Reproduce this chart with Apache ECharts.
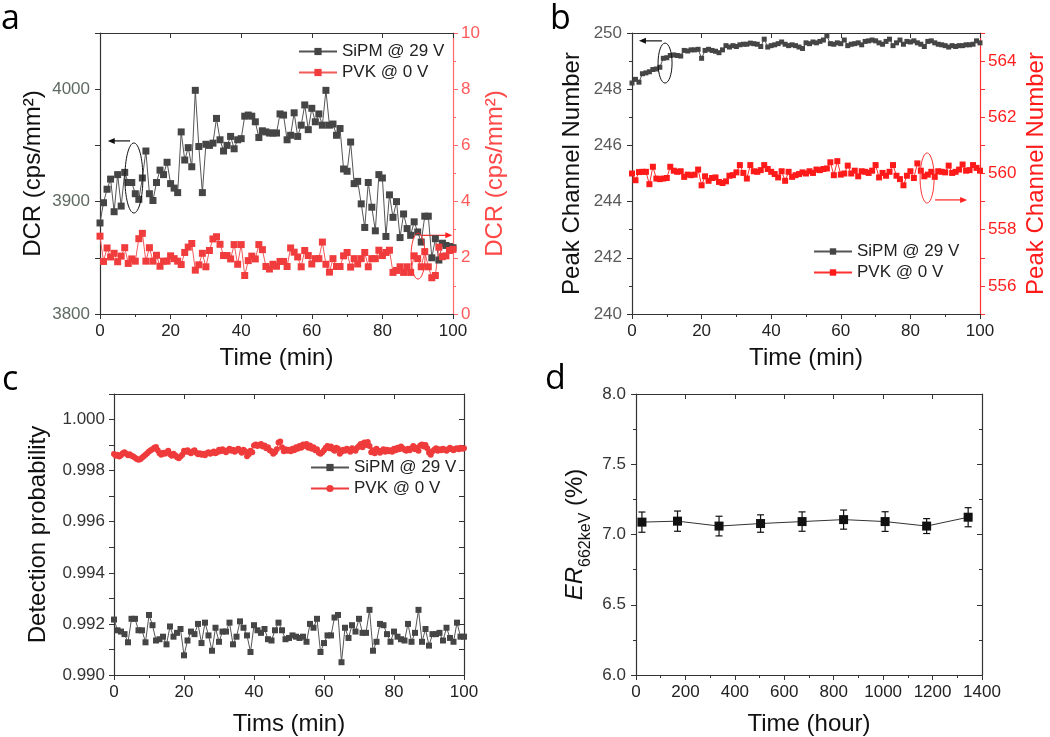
<!DOCTYPE html>
<html><head><meta charset="utf-8">
<script src="https://cdn.jsdelivr.net/npm/echarts@6/dist/echarts.min.js"></script>
<style>html,body{margin:0;padding:0;background:#fff}#chart{width:1050px;height:737px}</style>
</head><body><div id="chart"></div>
<script>
// ---------- DATA ----------
const timeMin = [0,1,2,3,4,5,6,7,8,9,10,11,12,13,14,15,16,17,18,19,20,21,22,23,24,25,26,27,28,29,30,31,32,33,34,35,36,37,38,39,40,41,42,43,44,45,46,47,48,49,50,51,52,53,54,55,56,57,58,59,60,61,62,63,64,65,66,67,68,69,70,71,72,73,74,75,76,77,78,79,80,81,82,83,84,85,86,87,88,89,90,91,92,93,94,95,96,97,98,99,100];
const timeHalfMin = [0,0.5,1,1.5,2,2.5,3,3.5,4,4.5,5,5.5,6,6.5,7,7.5,8,8.5,9,9.5,
10,10.5,11,11.5,12,12.5,13,13.5,14,14.5,15,15.5,16,16.5,17,17.5,18,18.5,19,19.5,
20,20.5,21,21.5,22,22.5,23,23.5,24,24.5,25,25.5,26,26.5,27,27.5,28,28.5,29,29.5,
30,30.5,31,31.5,32,32.5,33,33.5,34,34.5,35,35.5,36,36.5,37,37.5,38,38.5,39,39.5,
40,40.5,41,41.5,42,42.5,43,43.5,44,44.5,45,45.5,46,46.5,47,47.5,48,48.5,49,49.5,
50,50.5,51,51.5,52,52.5,53,53.5,54,54.5,55,55.5,56,56.5,57,57.5,58,58.5,59,59.5,
60,60.5,61,61.5,62,62.5,63,63.5,64,64.5,65,65.5,66,66.5,67,67.5,68,68.5,69,69.5,
70,70.5,71,71.5,72,72.5,73,73.5,74,74.5,75,75.5,76,76.5,77,77.5,78,78.5,79,79.5,
80,80.5,81,81.5,82,82.5,83,83.5,84,84.5,85,85.5,86,86.5,87,87.5,88,88.5,89,89.5,
90,90.5,91,91.5,92,92.5,93,93.5,94,94.5,95,95.5,96,96.5,97,97.5,98,98.5,99,99.5,100];

// (a) dark count rate
const dcrSipm = [3881,3899,3911,3920,3891,3924,3896,3926,3917,3917,
3907,3902,3921,3945,3907,3901,3917,3928,3924,3935,
3916,3912,3908,3962,3937,3948,3931,3999,3949,3908,
3951,3950,3952,3974,3955,3945,3950,3958,3947,3955,
3956,3976,3977,3976,3971,3957,3963,3962,3961,3961,
3961,3978,3977,3955,3959,3979,3958,3968,3986,3964,
3983,3971,3978,3968,3999,3968,3969,3959,3965,3929,
3927,3953,3916,3918,3898,3877,3917,3895,3874,3924,
3921,3869,3906,3886,3900,3868,3889,3876,3870,3882,
3873,3864,3887,3887,3850,3867,3848,3863,3861,3860,3859];
const dcrPvk = [2.77,1.87,2.35,2.03,2.16,1.86,2.06,2.36,1.80,1.96,
1.88,2.68,2.87,1.88,2.36,1.88,2.09,1.70,1.88,1.88,
2.07,1.97,1.88,1.76,2.19,2.38,2.51,1.56,1.75,2.16,
1.68,2.26,2.67,2.75,2.48,2.08,2.08,1.96,2.47,1.77,
2.47,1.37,1.90,2.06,1.96,2.47,2.29,1.69,1.60,1.77,
1.70,1.87,1.87,1.69,2.35,2.20,2.03,1.68,2.26,2.08,
1.78,1.97,1.97,2.56,1.77,1.49,1.97,1.69,1.69,2.07,
2.19,1.67,1.97,1.78,1.97,2.19,1.68,1.97,1.97,2.27,
2.08,2.19,2.27,1.48,1.55,1.68,1.48,1.68,1.48,2.07,
1.97,1.68,2.22,1.68,1.29,1.37,2.38,2.04,2.07,2.26,2.30];

// (b) peak channel number
const peakSipm = [248.22,248.35,248.25,248.55,248.58,248.62,248.70,248.72,248.78,249.10,
249.12,249.20,249.22,249.20,249.18,249.38,249.36,249.40,249.40,249.42,
249.10,249.38,249.42,249.38,249.35,249.30,249.40,249.55,249.50,249.55,
249.52,249.58,249.60,249.60,249.64,249.62,249.60,249.52,249.78,249.50,
249.55,249.58,249.62,249.68,249.60,249.55,249.58,249.55,249.50,249.45,
249.65,249.62,249.68,249.65,249.70,249.75,249.90,249.62,249.60,249.65,
249.62,249.75,249.55,249.60,249.62,249.65,249.58,249.70,249.72,249.75,
249.72,249.65,249.60,249.70,249.78,249.55,249.65,249.75,249.60,249.70,
249.68,249.72,249.65,249.60,249.52,249.70,249.72,249.65,249.60,249.58,
249.55,249.50,249.55,249.52,249.55,249.55,249.58,249.58,249.60,249.72,249.65];
const peakPvk = [560.00,559.76,560.05,560.06,560.06,559.62,560.24,559.82,559.80,559.82,
559.84,560.24,560.10,560.06,560.08,559.88,559.96,559.94,559.96,560.14,
559.58,559.90,559.74,559.84,559.86,559.70,559.66,559.72,559.92,559.94,
560.04,560.30,560.02,559.82,560.30,560.08,560.06,560.12,560.30,560.16,
560.06,559.98,559.86,560.08,559.74,560.06,559.88,559.94,559.98,560.04,
560.00,560.08,560.02,560.14,560.12,560.16,560.18,560.40,559.94,560.44,
559.96,560.00,560.28,560.00,560.10,559.90,560.08,560.06,560.02,560.10,
560.30,559.86,560.02,559.92,560.06,560.30,559.92,559.80,559.58,559.92,
560.08,559.84,560.36,560.10,559.90,559.96,560.06,559.88,560.08,560.06,
560.04,560.28,560.02,560.06,560.14,560.32,560.10,560.12,560.30,560.20,560.10];

// (c) detection probability
const detSipm = [0.99217,0.99175,0.99170,0.99160,0.99128,0.99220,0.99220,0.99175,0.99175,0.99128,
0.99235,0.99195,0.99135,0.99140,0.99150,0.99120,0.99190,0.99150,0.99165,0.99180,
0.99077,0.99135,0.99170,0.99160,0.99200,0.99125,0.99205,0.99155,0.99095,0.99185,
0.99130,0.99170,0.99170,0.99205,0.99120,0.99150,0.99210,0.99185,0.99155,0.99090,
0.99195,0.99175,0.99165,0.99180,0.99140,0.99135,0.99175,0.99205,0.99175,0.99140,
0.99145,0.99155,0.99150,0.99145,0.99150,0.99130,0.99200,0.99185,0.99220,0.99090,
0.99125,0.99155,0.99155,0.99225,0.99235,0.99050,0.99185,0.99145,0.99195,0.99170,
0.99220,0.99165,0.99165,0.99255,0.99095,0.99130,0.99200,0.99195,0.99160,0.99130,
0.99170,0.99150,0.99140,0.99135,0.99200,0.99130,0.99165,0.99255,0.99130,0.99180,
0.99115,0.99160,0.99160,0.99165,0.99135,0.99185,0.99145,0.99130,0.99205,0.99150,0.99150];
const detPvk = [0.99865,0.99858,0.99862,0.99855,0.99860,0.99868,0.99872,0.99866,0.99860,0.99864,0.99858,0.99855,0.99850,0.99846,0.99843,0.99845,0.99850,0.99856,0.99862,0.99868,
0.99875,0.99880,0.99884,0.99890,0.99893,0.99880,0.99868,0.99862,0.99870,0.99866,0.99872,0.99878,0.99864,0.99858,0.99866,0.99860,0.99852,0.99848,0.99855,0.99862,
0.99878,0.99874,0.99880,0.99872,0.99868,0.99876,0.99880,0.99870,0.99864,0.99868,0.99862,0.99866,0.99860,0.99868,0.99872,0.99866,0.99870,0.99875,0.99868,0.99872,
0.99882,0.99876,0.99884,0.99878,0.99872,0.99880,0.99886,0.99878,0.99882,0.99874,0.99880,0.99886,0.99878,0.99870,0.99882,0.99876,0.99856,0.99864,0.99878,0.99872,
0.99898,0.99902,0.99896,0.99900,0.99904,0.99894,0.99898,0.99888,0.99892,0.99880,0.99876,0.99866,0.99872,0.99884,0.99910,0.99914,0.99892,0.99876,0.99884,0.99878,
0.99882,0.99876,0.99886,0.99880,0.99892,0.99886,0.99896,0.99890,0.99902,0.99896,0.99904,0.99890,0.99898,0.99886,0.99892,0.99880,0.99884,0.99870,0.99866,0.99872,
0.99880,0.99890,0.99896,0.99888,0.99894,0.99884,0.99878,0.99890,0.99886,0.99866,0.99874,0.99882,0.99878,0.99886,0.99880,0.99874,0.99888,0.99882,0.99878,0.99890,
0.99896,0.99904,0.99892,0.99910,0.99900,0.99912,0.99896,0.99872,0.99880,0.99868,0.99886,0.99878,0.99870,0.99878,0.99884,0.99874,0.99882,0.99876,0.99880,0.99874,
0.99886,0.99880,0.99890,0.99884,0.99894,0.99888,0.99882,0.99878,0.99886,0.99880,0.99888,0.99896,0.99884,0.99890,0.99878,0.99898,0.99902,0.99894,0.99900,0.99888,
0.99870,0.99862,0.99876,0.99882,0.99888,0.99878,0.99884,0.99880,0.99886,0.99882,0.99878,0.99884,0.99890,0.99884,0.99880,0.99886,0.99888,0.99884,0.99890,0.99886,
0.99888];

// (d) energy resolution
const hours = [24,168,336,504,672,840,1008,1176,1344];
const erValue = [7.088,7.095,7.060,7.078,7.092,7.106,7.092,7.060,7.123];
const erError = [0.072,0.072,0.070,0.062,0.069,0.068,0.070,0.053,0.068];

const legendNames = ['SiPM @ 29 V','PVK @ 0 V'];

// ---------- STYLE ----------
const FONT = 'Arial, "Liberation Sans", sans-serif';
const AX = '#333';
const GRAY = '#454545';
const pair = (xs, ys) => xs.map((x, i) => [x, ys[i]]);

function xAxisBottom(g, min, max, interval, name, gap) {
  return {type:'value', gridIndex:g, position:'bottom', min:min, max:max, interval:interval,
    name:name, nameLocation:'middle', nameGap:gap,
    nameTextStyle:{fontFamily:FONT, fontSize:24, color:'#111'},
    axisLine:{onZero:false, lineStyle:{color:AX, width:1.2}},
    axisTick:{show:true, length:5, lineStyle:{color:AX}},
    minorTick:{show:true, splitNumber:2, length:3, lineStyle:{color:AX}},
    axisLabel:{fontFamily:FONT, fontSize:17, color:'#222', margin:9, formatter:v => String(v)},
    splitLine:{show:false}};
}
function xAxisTop(g, min, max, interval) {
  return {type:'value', gridIndex:g, position:'top', min:min, max:max, interval:interval,
    axisLine:{onZero:false, lineStyle:{color:AX, width:1.2}},
    axisTick:{show:true, inside:true, length:5, lineStyle:{color:AX}},
    axisLabel:{show:false}, splitLine:{show:false}};
}
function yAxisDef(g, pos, min, max, interval, o) {
  const color = o.color || AX;
  const ax = {type:'value', gridIndex:g, position:pos, min:min, max:max, interval:interval,
    axisLine:{show:true, onZero:false, lineStyle:{color:color, width:1.2}},
    axisTick:{show:true, inside:!!o.inside, length:5, lineStyle:{color:color}},
    minorTick:{show:!!o.minor, splitNumber:2, length:3, lineStyle:{color:color}},
    axisLabel:{show:o.label !== false, fontFamily:FONT, fontSize:17, color:o.labelColor || '#222', margin:o.margin || 9},
    splitLine:{show:false}};
  if (o.formatter) ax.axisLabel.formatter = o.formatter;
  if (o.name) {
    ax.name = o.name; ax.nameLocation = 'middle'; ax.nameGap = o.gap; ax.nameRotate = 90;
    ax.nameTextStyle = {fontFamily:FONT, fontSize:24, color:o.nameColor || '#111'};
    if (o.rich) ax.nameTextStyle.rich = o.rich;
  }
  return ax;
}

const letterStyle = {fontFamily:'"Open Sans", "DejaVu Sans", sans-serif', fontSize:34, fontWeight:'normal', color:'#000'};
const baseOption = {
  animation:false,
  backgroundColor:'#fff',
  title:[
    {text:'a', left:-4, top:-3, textStyle:letterStyle},
    {text:'b', left:545, top:-3, textStyle:letterStyle},
    {text:'c', left:-3, top:358, textStyle:letterStyle},
    {text:'d', left:540, top:357, textStyle:letterStyle}
  ],
  grid:[
    {left:100, top:33, width:353, height:281},
    {left:632, top:33, width:348, height:281},
    {left:114, top:394, width:350, height:282},
    {left:636, top:394, width:346, height:282}
  ],
  xAxis:[
    xAxisBottom(0, 0, 100, 20, 'Time (min)', 32),
    xAxisTop(0, 0, 100, 20),
    xAxisBottom(1, 0, 100, 20, 'Time (min)', 32),
    xAxisTop(1, 0, 100, 20),
    xAxisBottom(2, 0, 100, 20, 'Tims (min)', 37),
    xAxisTop(2, 0, 100, 20),
    xAxisBottom(3, 0, 1400, 200, 'Time (hour)', 37),
    xAxisTop(3, 0, 1400, 200)
  ],
  yAxis:[
    yAxisDef(0, 'left', 3800, 4050, 50, {name:'DCR (cps/mm²)', gap:55, labelColor:'#5e6a62', margin:10,
      formatter:v => (v % 100 === 0 ? String(v) : '')}),
    yAxisDef(0, 'right', 0, 10, 2, {name:'DCR (cps/mm²)', gap:30, color:'#ff6a6a', labelColor:'#ff5a5a',
      nameColor:'#ff4848', minor:true, margin:8}),
    yAxisDef(1, 'left', 240, 250, 2, {name:'Peak Channel Number', gap:48, labelColor:'#5a5a5a', minor:true, margin:10}),
    yAxisDef(1, 'right', 555, 565, 1, {name:'Peak Channel Number', gap:44, color:'#ff3030', labelColor:'#ff2020',
      nameColor:'#ff1a1a', margin:8, formatter:v => (v % 2 === 0 ? String(v) : '')}),
    yAxisDef(2, 'left', 0.990, 1.001, 0.001, {name:'Detection probability', gap:64, labelColor:'#333', margin:9,
      formatter:v => { const k = Math.round(v * 1000); return k % 2 === 0 ? (k / 1000).toFixed(3) : ''; }}),
    yAxisDef(2, 'right', 0.990, 1.001, 0.001, {label:false, inside:true}),
    yAxisDef(3, 'left', 6, 8, 0.5, {name:'{i|ER}{s|662keV}{n| (%)}', gap:42, labelColor:'#333', minor:true, margin:10,
      formatter:v => v.toFixed(1),
      rich:{
        i:{fontFamily:FONT, fontSize:24, fontStyle:'italic', color:'#111', verticalAlign:'bottom', padding:[0, 0, 7, 0]},
        s:{fontFamily:FONT, fontSize:16, color:'#111', verticalAlign:'bottom'},
        n:{fontFamily:FONT, fontSize:24, color:'#111', verticalAlign:'bottom', padding:[0, 0, 7, 0]}
      }}),
    yAxisDef(3, 'right', 6, 8, 0.5, {label:false, inside:true, minor:true})
  ]
};

const lineSeries = [
  {name:'a|' + legendNames[0], type:'line', xAxisIndex:0, yAxisIndex:0, data:pair(timeMin, dcrSipm),
   symbol:'rect', symbolSize:7, itemStyle:{color:GRAY}, lineStyle:{color:'#555', width:1}},
  {name:'a|' + legendNames[1], type:'line', xAxisIndex:0, yAxisIndex:1, data:pair(timeMin, dcrPvk),
   symbol:'rect', symbolSize:7, itemStyle:{color:'#f03c3c'}, lineStyle:{color:'#f35a5a', width:1}},
  {name:'b|' + legendNames[0], type:'line', xAxisIndex:2, yAxisIndex:2, data:pair(timeMin, peakSipm),
   symbol:'rect', symbolSize:5, itemStyle:{color:GRAY}, lineStyle:{color:'#555', width:1}},
  {name:'b|' + legendNames[1], type:'line', xAxisIndex:2, yAxisIndex:3, data:pair(timeMin, peakPvk),
   symbol:'rect', symbolSize:6, itemStyle:{color:'#ff1a1a'}, lineStyle:{color:'#ff3030', width:1}},
  {name:'c|' + legendNames[0], type:'line', xAxisIndex:4, yAxisIndex:4, data:pair(timeMin, detSipm),
   symbol:'rect', symbolSize:6, itemStyle:{color:GRAY}, lineStyle:{color:'#555', width:1}},
  {name:'c|' + legendNames[1], type:'line', xAxisIndex:4, yAxisIndex:4, data:pair(timeHalfMin, detPvk),
   symbol:'circle', symbolSize:6, itemStyle:{color:'#ef3b3b'}, lineStyle:{color:'#ef3b3b', width:1}},
  {name:'ER', type:'line', xAxisIndex:6, yAxisIndex:6, data:pair(hours, erValue),
   symbol:'rect', symbolSize:9, itemStyle:{color:'#111'}, lineStyle:{color:'#333', width:1}, z:3}
];
const errSeries = {name:'ERerr', type:'custom', xAxisIndex:6, yAxisIndex:6,
  data:hours.map((h, i) => [h, erValue[i] - erError[i], erValue[i] + erError[i]]),
  encode:{x:0, y:[1, 2]},
  renderItem:function (params, api) {
    const x = api.value(0);
    const pTop = api.coord([x, api.value(2)]);
    const pBot = api.coord([x, api.value(1)]);
    const w = 3.5, st = {stroke:'#111', lineWidth:1.2};
    return {type:'group', children:[
      {type:'line', shape:{x1:pTop[0], y1:pTop[1], x2:pBot[0], y2:pBot[1]}, style:st},
      {type:'line', shape:{x1:pTop[0] - w, y1:pTop[1], x2:pTop[0] + w, y2:pTop[1]}, style:st},
      {type:'line', shape:{x1:pBot[0] - w, y1:pBot[1], x2:pBot[0] + w, y2:pBot[1]}, style:st}
    ]};
  }, z:2};

const legendTS = {fontFamily:FONT, fontSize:17, color:'#222'};
const legends = [
  {orient:'vertical', left:298, top:43, itemWidth:38, itemHeight:9, itemGap:4, padding:0,
   data:['a|' + legendNames[0], 'a|' + legendNames[1]], formatter:n => n.split('|')[1], textStyle:legendTS, selectedMode:false},
  {orient:'vertical', left:813, top:243, itemWidth:38, itemHeight:8, itemGap:4, padding:0,
   data:['b|' + legendNames[0], 'b|' + legendNames[1]], formatter:n => n.split('|')[1], textStyle:legendTS, selectedMode:false},
  {orient:'vertical', left:310, top:459, itemWidth:38, itemHeight:9, itemGap:4, padding:0,
   data:['c|' + legendNames[0], 'c|' + legendNames[1]], formatter:n => n.split('|')[1], textStyle:legendTS, selectedMode:false}
];

const chart = echarts.init(document.getElementById('chart'));
chart.setOption(Object.assign({}, baseOption, {series:lineSeries.concat([errSeries]), legend:legends}));

// ---------- annotations (ellipses + arrows in data coordinates) ----------
function px(xi, yi, pt) { return chart.convertToPixel({xAxisIndex:xi, yAxisIndex:yi}, pt); }
function ellipse(xi, yi, pt, rx, ry, color) {
  const p = px(xi, yi, pt);
  return {type:'ellipse', shape:{cx:p[0], cy:p[1], rx:rx, ry:ry}, style:{fill:null, stroke:color, lineWidth:1}, z:10};
}
function arrow(xi, yi, from, to, color) {
  const a = px(xi, yi, from), b = px(xi, yi, to);
  const dir = Math.sign(b[0] - a[0]);
  const hl = 7, hw = 3;
  return {type:'group', z:10, children:[
    {type:'line', shape:{x1:a[0], y1:a[1], x2:b[0] - dir * hl * 0.6, y2:b[1]}, style:{stroke:color, lineWidth:1.2}},
    {type:'polygon', shape:{points:[[b[0], b[1]], [b[0] - dir * hl, b[1] - hw], [b[0] - dir * hl, b[1] + hw]]}, style:{fill:color}}
  ]};
}
try {
  chart.setOption({graphic:[
    ellipse(0, 0, [9.6, 3921], 9, 35, '#111'),
    arrow(0, 0, [8.5, 3954], [2.2, 3954], '#111'),
    ellipse(0, 1, [90.1, 2.06], 7, 23, '#ff3030'),
    arrow(0, 1, [91, 2.8], [99.8, 2.8], '#ff2020'),
    ellipse(2, 2, [9.5, 248.93], 7, 20, '#111'),
    arrow(2, 2, [8.6, 249.72], [2.0, 249.72], '#111'),
    ellipse(2, 3, [84.8, 559.84], 7, 25, '#ff3030'),
    arrow(2, 3, [87.1, 559.06], [96.3, 559.06], '#ff2020')
  ]});
} catch (e) { console.error(e); }
</script>
</body></html>
